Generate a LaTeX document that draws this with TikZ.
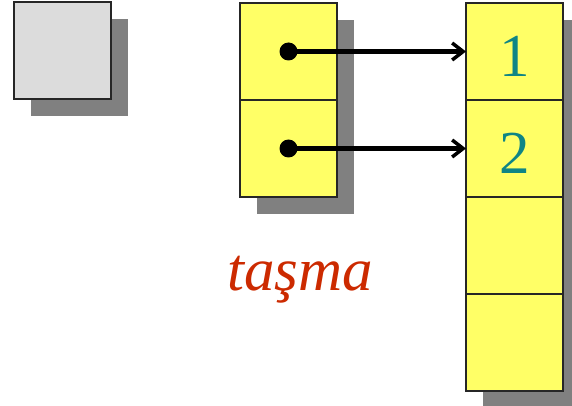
\documentclass[tikz,border=0pt]{standalone}
\usepackage{fontspec}
\setmainfont{Liberation Serif}
\usepackage{tikz}
\usetikzlibrary{arrows.meta,positioning,shadows}

\definecolor{cellyellow}{HTML}{FFFF66}
\definecolor{cellgray}{HTML}{DCDCDC}
\definecolor{shadowgray}{HTML}{808080}
\definecolor{numteal}{HTML}{0F8585}
\definecolor{overred}{HTML}{CC2A00}

\begin{document}
\begin{tikzpicture}[x=1pt, y=1pt, node distance=0pt, cellbase/.style={rectangle, draw=black!85, line width=2pt, minimum width=97pt, minimum height=97pt, inner sep=0pt, outer sep=0pt, drop shadow={shadow xshift=17pt, shadow yshift=-17pt, fill=shadowgray, opacity=1}}, cell/.style={cellbase, fill=cellyellow, text=numteal, text height=50pt, text depth=0pt, font=\fontsize{61}{61}\selectfont}, graycell/.style={cellbase, fill=cellgray}, dot/.style={circle, fill=black, inner sep=0pt, minimum size=18pt}, ptr/.style={-{Straight Barb[length=11pt, width=17pt, line width=3.5pt]}, line width=4.5pt}]
	 \useasboundingbox (0,0) rectangle (572,-406);
	 \node[graycell] (free) at (62.5,-51) {};
	 \node[cell] (pa) at (288.5,-51.5) {};
	 \node[cell, below=of pa] (pb) {};
	 \node[cell] (r1) at (514.5,-51.5) {1};
	 \node[cell, below=of r1] (r2) {2};
	 \node[cell, below=of r2] (r3) {};
	 \node[cell, below=of r3] (r4) {};
	 \node[dot] (da) at (pa.center) {};
	 \node[dot] (db) at (pb.center) {};
	 \node[anchor=base, text=overred, font=\fontsize{61}{61}\selectfont\itshape] (ovf) at (300,-290) {taşma};
	 \draw[ptr] (da.center) -- (da.center -| r1.west);
	 \draw[ptr] (db.center) -- (db.center -| r2.west);
\end{tikzpicture}
\end{document}
